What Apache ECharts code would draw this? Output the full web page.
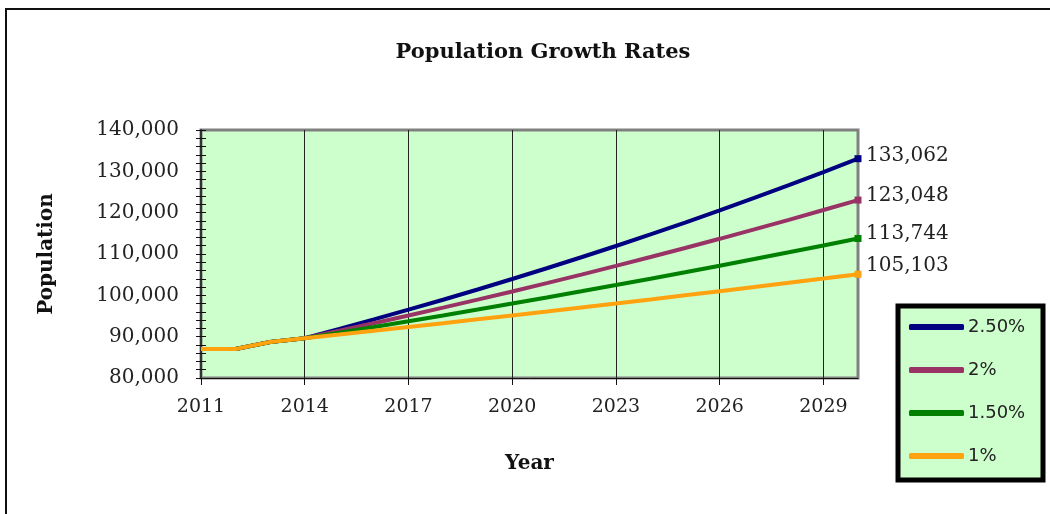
<!DOCTYPE html>
<html>
<head>
<meta charset="utf-8">
<script src="https://cdn.jsdelivr.net/npm/echarts@6/dist/echarts.min.js"></script>
<style>
html,body{margin:0;padding:0;background:#fff;}
#chart{width:1050px;height:514px;}
</style>
</head>
<body>
<div id="chart"></div>
<script>
const years = ['2011','2012','2013','2014','2015','2016','2017','2018','2019','2020',
               '2021','2022','2023','2024','2025','2026','2027','2028','2029','2030'];
const seriesNames = ['2.50%', '2%', '1.50%', '1%'];
const seriesColors = ['#000080', '#993366', '#008000', '#FFA20F'];
const rate250 = [87000, 87000, 88700, 89633, 91874, 94171, 96525, 98938, 101412, 103947,
                 106546, 109209, 111940, 114738, 117606, 120547, 123560, 126649, 129816, 133062];
const rate200 = [87000, 87000, 88700, 89633, 91426, 93254, 95119, 97022, 98962, 100941,
                 102960, 105019, 107120, 109262, 111447, 113676, 115950, 118269, 120634, 123048];
const rate150 = [87000, 87000, 88700, 89633, 90977, 92342, 93727, 95133, 96560, 98009,
                 99479, 100971, 102486, 104023, 105583, 107167, 108774, 110406, 112062, 113744];
const rate100 = [87000, 87000, 88700, 89633, 90529, 91435, 92349, 93272, 94205, 95147,
                 96099, 97060, 98030, 99011, 100001, 101001, 102011, 103031, 104061, 105103];
const labelOffsets = [[0, -3], [0, -4], [0, -5], [0, -8]];
const yTicks = { min: 80000, max: 140000, interval: 10000 };

const allData = [rate250, rate200, rate150, rate100];
const fmt = v => Number(v).toLocaleString('en-US');

const chart = echarts.init(document.getElementById('chart'));
const series = allData.map((arr, i) => ({
  name: seriesNames[i],
  type: 'line',
  data: arr.map((v, j) => j === arr.length - 1 ? { value: v, symbol: 'rect', symbolSize: 7 } : v),
  symbol: 'none',
  showSymbol: true,
  color: seriesColors[i],
  lineStyle: { width: 4, color: seriesColors[i] },
  itemStyle: { color: seriesColors[i] },
  animation: false,
  endLabel: {
    show: true,
    distance: 8,
    offset: labelOffsets[i],
    formatter: p => fmt(p.value),
    fontFamily: 'DejaVu Serif',
    fontSize: 20,
    color: '#222'
  }
}));

chart.setOption({
  animation: false,
  backgroundColor: '#ffffff',
  title: {
    text: 'Population Growth Rates',
    left: 538,
    textAlign: 'center',
    top: 37,
    textStyle: { fontFamily: 'DejaVu Serif', fontWeight: 'bold', fontSize: 21, color: '#111' }
  },
  graphic: [
    { type: 'rect', z: 0, shape: { x: 6, y: 9, width: 1200, height: 700 },
      style: { fill: 'none', stroke: '#111', lineWidth: 2 } },
    { type: 'rect', z: 1, shape: { x: 898, y: 306, width: 145, height: 174 },
      style: { fill: '#ccffcc', stroke: '#000', lineWidth: 5 } }
  ],
  legend: {
    orient: 'vertical',
    left: 909,
    top: 317,
    padding: 0,
    itemGap: 23,
    itemWidth: 55,
    itemHeight: 6,
    icon: 'roundRect',
    z: 5,
    textStyle: { fontFamily: 'DejaVu Sans', fontSize: 18, color: '#222', lineHeight: 20, padding: [0, 0, 0, -1] },
    data: seriesNames
  },
  grid: {
    left: 201, right: 192, top: 130, bottom: 136,
    show: true,
    backgroundColor: '#ccffcc',
    borderColor: '#808080',
    borderWidth: 3
  },
  xAxis: {
    type: 'category',
    data: years,
    boundaryGap: false,
    name: 'Year',
    nameLocation: 'middle',
    nameGap: 76,
    nameTextStyle: { fontFamily: 'DejaVu Serif', fontWeight: 'bold', fontSize: 20, color: '#111' },
    axisLine: { lineStyle: { color: '#111', width: 1 } },
    axisTick: { show: true, interval: (i) => i % 3 === 0, length: 7, lineStyle: { color: '#111' } },
    axisLabel: { interval: 2, margin: 20, fontFamily: 'DejaVu Serif', fontSize: 19, color: '#222' },
    splitLine: { show: true, interval: (i) => i % 3 === 0 && i > 0, lineStyle: { color: '#222', width: 1 } }
  },
  yAxis: [
    {
      type: 'value',
      min: yTicks.min, max: yTicks.max, interval: yTicks.interval,
      name: 'Population',
      nameLocation: 'middle',
      nameGap: 144,
      nameTextStyle: { fontFamily: 'DejaVu Serif', fontWeight: 'bold', fontSize: 20, color: '#111' },
      axisLine: { show: true, lineStyle: { color: '#333', width: 2 } },
      axisTick: { show: true, length: 5, lineStyle: { color: '#111' } },
      minorTick: { show: true, splitNumber: 5, length: 5, lineStyle: { color: '#111' } },
      axisLabel: { margin: 22, fontFamily: 'DejaVu Serif', fontSize: 20, color: '#222', formatter: fmt },
      splitLine: { show: false }
    },
    {
      type: 'value',
      position: 'left',
      min: yTicks.min, max: yTicks.max, interval: yTicks.interval,
      axisLine: { show: false },
      axisTick: { show: true, inside: true, length: 5, lineStyle: { color: '#111' } },
      minorTick: { show: true, splitNumber: 5, length: 5, lineStyle: { color: '#111' } },
      axisLabel: { show: false },
      splitLine: { show: false }
    }
  ],
  series: series
});
</script>
</body>
</html>
